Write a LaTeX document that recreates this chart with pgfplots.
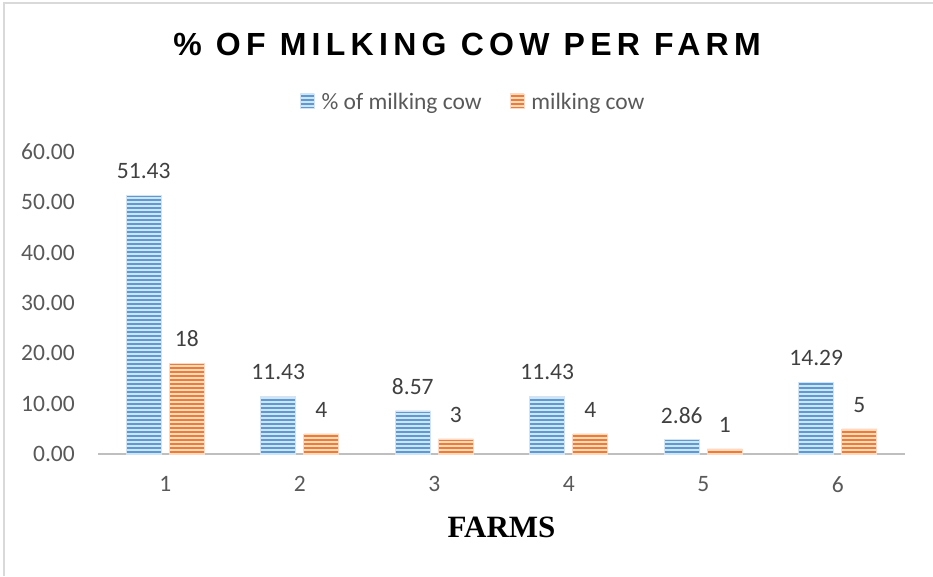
\documentclass[border=0pt]{standalone}
\usepackage{fontspec}
\setmainfont{Carlito}
\newfontfamily\titlefont[LetterSpace=16.5]{Liberation Sans}
\newfontfamily\serifbold{Liberation Serif}
\usepackage{pgfplots}
\pgfplotsset{compat=1.18}
\usetikzlibrary{patterns}

\definecolor{barblue}{HTML}{5B9BD5}
\definecolor{stripeblue}{HTML}{D2E4F4}
\definecolor{barorange}{HTML}{ED7D31}
\definecolor{stripeorange}{HTML}{FADAC4}
\definecolor{ticktext}{HTML}{595959}
\definecolor{labeltext}{HTML}{404040}
\definecolor{baseline}{HTML}{BFBFBF}
\definecolor{framecol}{HTML}{D9D9D9}

% thin horizontal stripes laid over the bar fill (wide, overlapping tiles)
\pgfdeclarepatternformonly{hstripes}{\pgfqpoint{-2pt}{0pt}}{\pgfqpoint{62pt}{4pt}}{\pgfqpoint{60pt}{4pt}}{%
  \pgfpathrectangle{\pgfqpoint{-2pt}{1.3pt}}{\pgfqpoint{64pt}{1.4pt}}%
  \pgfusepath{fill}}

% square legend swatch, with room before the entry text
\pgfplotsset{swatch/.style={legend image code/.code={%
  \draw[##1] (0pt,-6pt) rectangle (14pt,8pt);
  \path (19pt,0pt);}}}

\newcommand{\labelfont}{\fontsize{23.5}{28}\selectfont}

\begin{document}
\begin{tikzpicture}[x=1pt,y=1pt]
\begin{axis}[
  at={(98pt,122pt)}, anchor=south west,
  width=807pt, height=302pt, scale only axis,
  xmin=0.5, xmax=6.5, ymin=0, ymax=60,
  clip=false,
  ybar=8pt, bar width=35pt,
  xtick={1,...,6}, xticklabels={1,2,3,4,5,6},
  ytick={0,10,...,60},
  yticklabel={\pgfmathprintnumber[fixed,fixed zerofill,precision=2,assume math mode=true]{\tick}},
  major tick length=0pt,
  axis x line*=bottom, axis y line*=left,
  x axis line style={draw=baseline, line width=2.6pt, -},
  y axis line style={draw=none},
  yticklabel style={font=\labelfont, text=ticktext, anchor=east, inner sep=0pt, xshift=-23pt},
  xticklabel style={font=\labelfont, text=ticktext, anchor=north, inner sep=0pt, yshift=-22pt},
  xlabel={FARMS},
  xlabel style={at={(axis description cs:0.5,-0.242)}, anchor=center,
    font=\serifbold\bfseries\fontsize{31}{36}\selectfont, text=black},
  nodes near coords,
  point meta=explicit symbolic,
  every node near coord/.append style={font=\labelfont, text=labeltext, anchor=south, inner sep=0pt, yshift=16pt},
  legend columns=2,
  legend style={at={(0.465,1.166)}, anchor=center, draw=none, fill=none,
    font=\labelfont, text=ticktext,
    /tikz/every even column/.append style={column sep=26pt}},
]
\addplot[fill=barblue, draw=stripeblue, line width=0.6pt,
  postaction={pattern=hstripes, pattern color=stripeblue}, swatch]
  coordinates {(1,51.43)[51.43] (2,11.43)[11.43] (3,8.57)[8.57] (4,11.43)[11.43] (5,2.86)[2.86] (6,14.29)[14.29]};
\addlegendentry{\% of milking cow}
\addplot[fill=barorange, draw=stripeorange, line width=0.6pt,
  postaction={pattern=hstripes, pattern color=stripeorange}, swatch]
  coordinates {(1,18)[18] (2,4)[4] (3,3)[3] (4,4)[4] (5,1)[1] (6,5)[5]};
\addlegendentry{milking cow}
\end{axis}
\node[font=\titlefont\bfseries\fontsize{32}{38}\selectfont, anchor=center] at (467pt,532pt) {\% OF MILKING COW PER FARM};
\draw[framecol, line width=1.5pt] (4pt,0pt) -- (4pt,573pt) -- (933pt,573pt);
\pgfresetboundingbox
\path[use as bounding box] (0pt,0pt) rectangle (933pt,576pt);
\end{tikzpicture}
\end{document}
